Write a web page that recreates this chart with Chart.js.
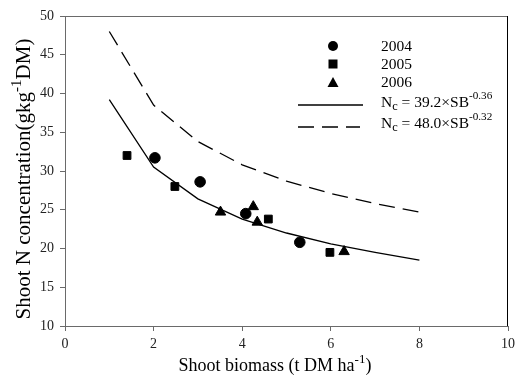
<!DOCTYPE html>
<html>
<head>
<meta charset="utf-8">
<script src="https://cdn.jsdelivr.net/npm/chart.js@4.4.0/dist/chart.umd.min.js"></script>
<style>
  html, body { margin: 0; padding: 0; background: #fff; }
  #wrap { width: 516px; height: 377px; }
</style>
</head>
<body>
<div id="wrap"><canvas id="chart" width="516" height="377"></canvas></div>
<script>
// datos
const biomasa2004 = [2.03, 3.05, 4.08, 5.30];
const conc2004 = [31.7, 28.6, 24.5, 20.8];
const biomasa2005 = [1.40, 2.48, 4.59, 5.98];
const conc2005 = [32.0, 28.0, 23.8, 19.5];
const biomasa2006 = [3.51, 4.25, 4.34, 6.30];
const conc2006 = [24.7, 25.4, 23.4, 19.6];

// curvas criticas (puntos en x enteros)
const curvaX = [1, 2, 3, 4, 5, 6, 7, 8];
const curvaSolida = [39.2, 30.5, 26.4, 23.8, 22.0, 20.6, 19.5, 18.5];
const curvaDiscontinua = [48.0, 38.5, 33.8, 30.8, 28.7, 27.1, 25.8, 24.7];

const xTicks = [0, 2, 4, 6, 8, 10];
const yTicks = [10, 15, 20, 25, 30, 35, 40, 45, 50];

const FONT = '"Liberation Serif", "Times New Roman", serif';
const GRIS = '#6a6a6a';

function puntos(xs, ys) {
    return xs.map((x, i) => ({ x: x, y: ys[i] }));
}

// texto con sub/superindice: partes [texto, 'n'|'sub'|'sup']
function textoMixto(ctx, partes, x, y, size) {
    let cx = x;
    partes.forEach(([t, tipo]) => {
        let s = size, dy = 0;
        if (tipo === 'sub') { s = size * 0.8; dy = size * 0.25; }
        if (tipo === 'sup') { s = size * 0.72; dy = -size * 0.42; }
        ctx.font = s + 'px ' + FONT;
        ctx.fillText(t, cx, y + dy);
        cx += ctx.measureText(t).width;
    });
    return cx - x;
}

function anchoMixto(ctx, partes, size) {
    let w = 0;
    partes.forEach(([t, tipo]) => {
        let s = size;
        if (tipo === 'sub') s = size * 0.8;
        if (tipo === 'sup') s = size * 0.72;
        ctx.font = s + 'px ' + FONT;
        w += ctx.measureText(t).width;
    });
    return w;
}

const extras = {
    id: 'extras',
    afterDraw(chart) {
        const ctx = chart.ctx;
        const a = chart.chartArea;
        ctx.save();
        // marco superior y derecho
        ctx.lineWidth = 1;
        ctx.strokeStyle = GRIS;
        ctx.beginPath(); ctx.moveTo(a.left, a.top + 0.5); ctx.lineTo(a.right, a.top + 0.5); ctx.stroke();
        ctx.strokeStyle = '#000';
        ctx.beginPath(); ctx.moveTo(a.right - 0.5, a.top); ctx.lineTo(a.right - 0.5, a.bottom); ctx.stroke();

        ctx.fillStyle = '#000';
        ctx.textBaseline = 'middle';
        ctx.textAlign = 'left';

        // leyenda
        const sx = 333, tx = 381;
        ctx.beginPath(); ctx.arc(sx, 46, 5, 0, Math.PI * 2); ctx.fill();
        ctx.fillRect(sx - 4.5, 59.5, 9, 9);
        ctx.beginPath(); ctx.moveTo(sx, 77); ctx.lineTo(sx + 5.5, 87); ctx.lineTo(sx - 5.5, 87); ctx.closePath(); ctx.fill();
        ctx.font = '15.5px ' + FONT;
        ctx.fillText('2004', tx, 47);
        ctx.fillText('2005', tx, 65);
        ctx.fillText('2006', tx, 83);

        ctx.lineWidth = 1.3;
        ctx.beginPath(); ctx.moveTo(298, 105); ctx.lineTo(363, 105); ctx.stroke();
        ctx.setLineDash([16, 8]);
        ctx.beginPath(); ctx.moveTo(298, 127); ctx.lineTo(360, 127); ctx.stroke();
        ctx.setLineDash([]);

        textoMixto(ctx, [['N', 'n'], ['c', 'sub'], [' = 39.2\u00d7SB', 'n'], ['-0.36', 'sup']], tx, 103, 15.5);
        textoMixto(ctx, [['N', 'n'], ['c', 'sub'], [' = 48.0\u00d7SB', 'n'], ['-0.32', 'sup']], tx, 124, 15.5);

        // titulo eje x
        ctx.textBaseline = 'alphabetic';
        const px = [['Shoot biomass (t DM ha', 'n'], ['-1', 'sup'], [')', 'n']];
        const wx = anchoMixto(ctx, px, 18);
        textoMixto(ctx, px, 275 - wx / 2, 371, 18);

        // titulo eje y
        const py = [['Shoot N concentration(gkg', 'n'], ['-1', 'sup'], ['DM)', 'n']];
        const wy = anchoMixto(ctx, py, 21);
        ctx.translate(30, 179);
        ctx.rotate(-Math.PI / 2);
        textoMixto(ctx, py, -wy / 2, 0, 21);
        ctx.restore();
    }
};

const ctx = document.getElementById('chart');
new Chart(ctx, {
    type: 'scatter',
    data: {
        datasets: [
            { label: '2004', data: puntos(biomasa2004, conc2004), pointStyle: 'circle', pointRadius: 5.3,
              backgroundColor: '#000', borderColor: '#000' },
            { label: '2005', data: puntos(biomasa2005, conc2005), pointStyle: 'rect', pointRadius: 5.5,
              backgroundColor: '#000', borderColor: '#000' },
            { label: '2006', data: puntos(biomasa2006, conc2006), pointStyle: 'triangle', pointRadius: 6,
              backgroundColor: '#000', borderColor: '#000' },
            { label: 'solida', data: puntos(curvaX, curvaSolida), showLine: true, pointRadius: 0,
              borderColor: '#000', borderWidth: 1.3, fill: false },
            { label: 'discontinua', data: puntos(curvaX, curvaDiscontinua), showLine: true, pointRadius: 0,
              borderColor: '#000', borderWidth: 1.3, borderDash: [16, 8], fill: false }
        ]
    },
    options: {
        responsive: false,
        animation: false,
        layout: { padding: { top: 16, right: 8, left: 0, bottom: 0 } },
        plugins: { legend: { display: false }, tooltip: { enabled: false } },
        scales: {
            x: {
                type: 'linear', min: 0, max: 10,
                afterBuildTicks: (s) => { s.ticks = xTicks.map(v => ({ value: v })); },
                afterFit: (s) => { s.height = 51; s.paddingLeft = 0; s.paddingRight = 0; },
                grid: { drawOnChartArea: false, drawTicks: true, tickLength: 5, color: GRIS },
                border: { display: true, color: GRIS },
                ticks: { color: '#222', font: { family: FONT, size: 14 }, padding: 5, maxRotation: 0 }
            },
            y: {
                type: 'linear', min: 10, max: 50,
                afterBuildTicks: (s) => { s.ticks = yTicks.map(v => ({ value: v })); },
                afterFit: (s) => { s.width = 65; s.paddingTop = 0; s.paddingBottom = 0; },
                grid: { drawOnChartArea: false, drawTicks: true, tickLength: 5, color: GRIS },
                border: { display: true, color: GRIS },
                ticks: { color: '#222', font: { family: FONT, size: 14 }, padding: 6 }
            }
        }
    },
    plugins: [extras]
});
</script>
</body>
</html>
